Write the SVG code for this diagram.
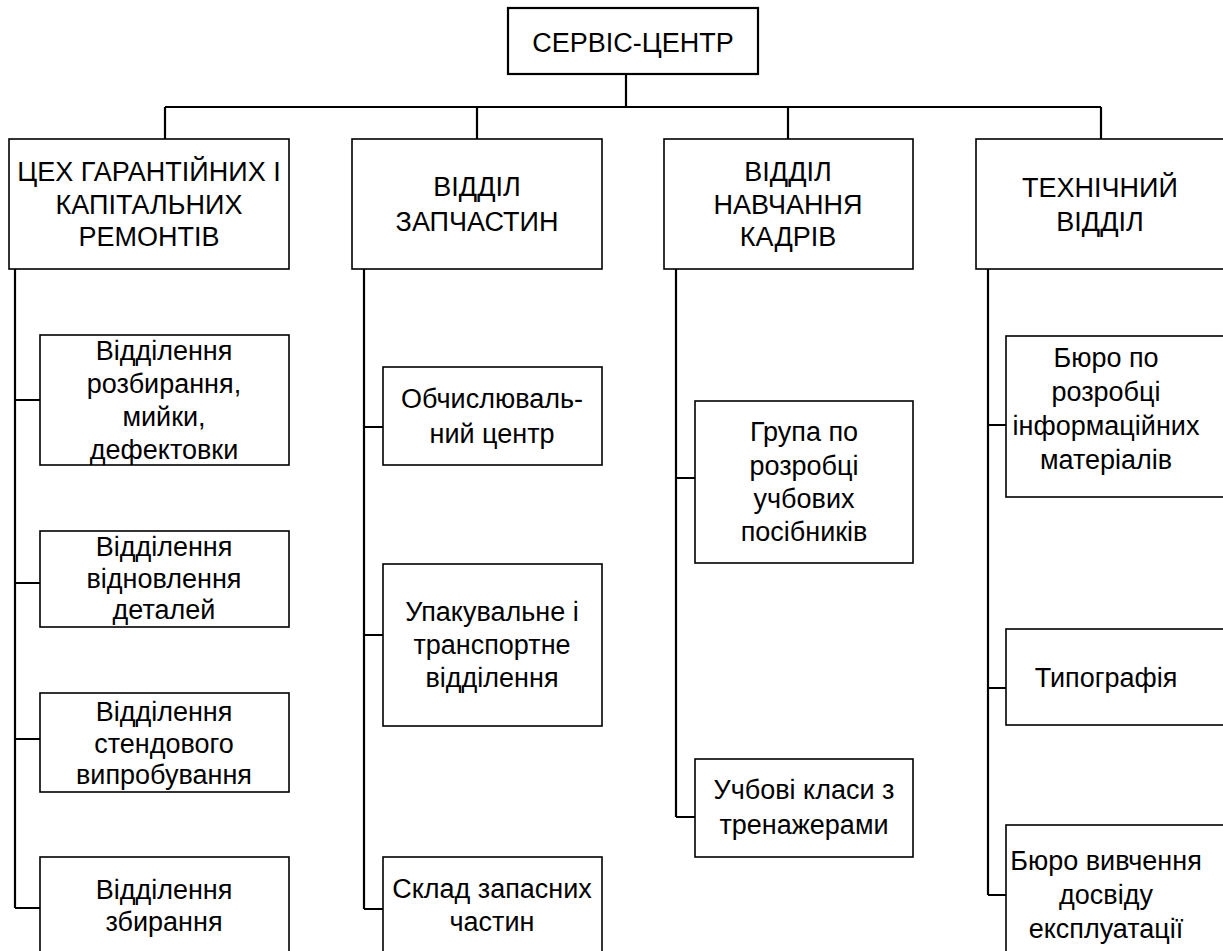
<svg xmlns="http://www.w3.org/2000/svg" width="1223" height="951" viewBox="0 0 1223 951">
<style>
.box{fill:#fff;stroke:#000;stroke-width:1.6}
.top{fill:#fff;stroke:#000;stroke-width:2.2}
.t{font-family:"Liberation Sans",Arial,sans-serif;font-size:27px;fill:#000;text-anchor:middle}
.c{fill:none;stroke:#000;stroke-width:2.2}
</style>
<rect width="1223" height="951" fill="#fff"/>
<g id="connectors">
<path class="c" d="M626,74V107M165,107H1101M165,107V139M477,107V139M788,107V139M1101,107V139"/>
<path class="c" d="M15,269V908M15,400H40M15,583H40M15,739H40M15,908H40"/>
<path class="c" d="M364,269V909M364,427H383M364,635H383M364,909H383"/>
<path class="c" d="M676,269V817M676,478H695M676,817H695"/>
<path class="c" d="M988,269V895M988,425H1006M988,688H1006M988,895H1006"/>
</g>
<g id="n-root"><rect class="top" x="508" y="8" width="250" height="66"/><text class="t" x="633" y="52">СЕРВІС-ЦЕНТР</text></g>
<g id="n-workshop"><rect class="box" x="9" y="139" width="280" height="130"/><text class="t" x="149" y="181">ЦЕХ ГАРАНТІЙНИХ І</text><text class="t" x="149" y="214">КАПІТАЛЬНИХ</text><text class="t" x="149" y="246">РЕМОНТІВ</text></g>
<g id="n-parts"><rect class="box" x="352" y="139" width="250" height="130"/><text class="t" x="477" y="196">ВІДДІЛ</text><text class="t" x="477" y="231">ЗАПЧАСТИН</text></g>
<g id="n-training"><rect class="box" x="664" y="139" width="249" height="130"/><text class="t" x="788" y="181">ВІДДІЛ</text><text class="t" x="788" y="214">НАВЧАННЯ</text><text class="t" x="788" y="246">КАДРІВ</text></g>
<g id="n-tech"><rect class="box" x="976" y="139" width="260" height="130"/><text class="t" x="1100" y="197">ТЕХНІЧНИЙ</text><text class="t" x="1100" y="231">ВІДДІЛ</text></g>
<g id="n-w1"><rect class="box" x="40" y="335" width="249" height="130"/><text class="t" x="164" y="360">Відділення</text><text class="t" x="164" y="393">розбирання,</text><text class="t" x="164" y="426">мийки,</text><text class="t" x="164" y="459">дефектовки</text></g>
<g id="n-w2"><rect class="box" x="40" y="531" width="249" height="96"/><text class="t" x="164" y="556">Відділення</text><text class="t" x="164" y="588">відновлення</text><text class="t" x="164" y="619">деталей</text></g>
<g id="n-w3"><rect class="box" x="40" y="693" width="249" height="99"/><text class="t" x="164" y="721">Відділення</text><text class="t" x="164" y="753">стендового</text><text class="t" x="164" y="784">випробування</text></g>
<g id="n-w4"><rect class="box" x="40" y="857" width="249" height="110"/><text class="t" x="164" y="899">Відділення</text><text class="t" x="164" y="931">збирання</text></g>
<g id="n-p1"><rect class="box" x="383" y="367" width="219" height="98"/><text class="t" x="492" y="408">Обчислюваль-</text><text class="t" x="492" y="443">ний центр</text></g>
<g id="n-p2"><rect class="box" x="383" y="564" width="219" height="162"/><text class="t" x="492" y="621">Упакувальне і</text><text class="t" x="492" y="654">транспортне</text><text class="t" x="492" y="687">відділення</text></g>
<g id="n-p3"><rect class="box" x="383" y="857" width="219" height="110"/><text class="t" x="492" y="898">Склад запасних</text><text class="t" x="492" y="931">частин</text></g>
<g id="n-t1"><rect class="box" x="695" y="401" width="218" height="162"/><text class="t" x="804" y="441">Група по</text><text class="t" x="804" y="475">розробці</text><text class="t" x="804" y="508">учбових</text><text class="t" x="804" y="541">посібників</text></g>
<g id="n-t2"><rect class="box" x="695" y="759" width="218" height="98"/><text class="t" x="804" y="799">Учбові класи з</text><text class="t" x="804" y="834">тренажерами</text></g>
<g id="n-e1"><rect class="box" x="1006" y="336" width="230" height="161"/><text class="t" x="1106" y="367">Бюро по</text><text class="t" x="1106" y="401">розробці</text><text class="t" x="1106" y="435">інформаційних</text><text class="t" x="1106" y="469">матеріалів</text></g>
<g id="n-e2"><rect class="box" x="1006" y="629" width="230" height="96"/><text class="t" x="1106" y="687">Типографія</text></g>
<g id="n-e3"><rect class="box" x="1006" y="825" width="230" height="140"/><text class="t" x="1106" y="870">Бюро вивчення</text><text class="t" x="1106" y="904">досвіду</text><text class="t" x="1106" y="938">експлуатації</text></g>
</svg>
